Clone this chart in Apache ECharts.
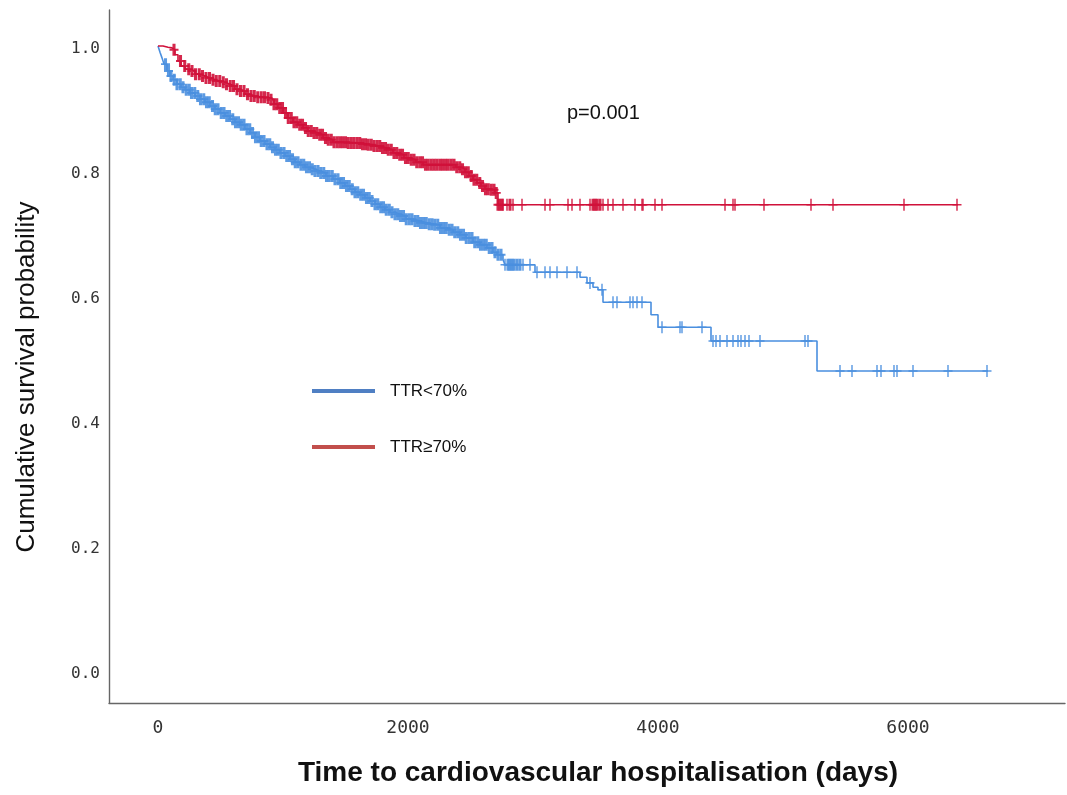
<!DOCTYPE html>
<html>
<head>
<meta charset="utf-8">
<title>Kaplan-Meier: time to cardiovascular hospitalisation</title>
<script src="https://cdn.jsdelivr.net/npm/echarts@6/dist/echarts.min.js"></script>
<style>
  html, body { margin: 0; padding: 0; background: #ffffff; }
  #chart { width: 1067px; height: 795px; }
</style>
</head>
<body>
<div id="chart"></div>
<script>
// Axis tick labels
const TICK_DAYS = [0, 2000, 4000, 6000];
const TICK_SURV = [0.0, 0.2, 0.4, 0.6, 0.8, 1.0];

// Group names
const GROUP_LOW = 'TTR<70%';
const GROUP_HIGH = 'TTR\u226570%';
const P_VALUE_TEXT = 'p=0.001';

// Kaplan-Meier step points, TTR<70% (time in days, cumulative survival)
const lowTimes = [0, 16, 32, 48, 72, 96, 120, 152, 184, 216,
  256, 296, 336, 376, 416, 456, 496, 536, 576, 616,
  656, 696, 736, 776, 816, 856, 896, 936, 976, 1016,
  1056, 1096, 1136, 1176, 1216, 1256, 1296, 1344, 1400, 1456,
  1496, 1536, 1576, 1616, 1656, 1696, 1736, 1776, 1816, 1856,
  1896, 1936, 1984, 2040, 2096, 2152, 2200, 2256, 2312, 2360,
  2416, 2464, 2520, 2576, 2632, 2680, 2712, 2760, 2776, 3016,
  3376, 3432, 3480, 3520, 3560, 3944, 4000, 4424, 5272, 6640];
const lowSurv = [1.0, 0.990, 0.981, 0.971, 0.960, 0.952, 0.946, 0.939, 0.934, 0.930,
  0.925, 0.920, 0.915, 0.910, 0.904, 0.899, 0.893, 0.888, 0.883, 0.878,
  0.874, 0.867, 0.861, 0.854, 0.848, 0.843, 0.838, 0.834, 0.829, 0.824,
  0.819, 0.814, 0.810, 0.806, 0.803, 0.800, 0.797, 0.792, 0.787, 0.781,
  0.776, 0.771, 0.766, 0.762, 0.757, 0.752, 0.747, 0.742, 0.738, 0.734,
  0.731, 0.728, 0.723, 0.720, 0.717, 0.715, 0.714, 0.709, 0.706, 0.702,
  0.698, 0.693, 0.686, 0.682, 0.677, 0.670, 0.666, 0.658, 0.650, 0.638,
  0.630, 0.621, 0.614, 0.610, 0.590, 0.570, 0.550, 0.528, 0.480, 0.480];

// Kaplan-Meier step points, TTR>=70%
const highTimes = [0, 40, 80, 112, 136, 160, 184, 216, 256, 296,
  336, 376, 416, 456, 496, 536, 576, 616, 656, 696,
  736, 776, 856, 896, 928, 960, 1000, 1040, 1080, 1120,
  1160, 1200, 1240, 1280, 1320, 1360, 1400, 1512, 1616, 1672,
  1720, 1776, 1824, 1880, 1920, 1968, 2016, 2064, 2120, 2384,
  2424, 2456, 2488, 2520, 2552, 2584, 2616, 2656, 2696, 2720,
  6400];
const highSurv = [1.0, 0.998, 0.997, 0.994, 0.986, 0.976, 0.968, 0.963, 0.960, 0.955,
  0.952, 0.949, 0.946, 0.944, 0.942, 0.939, 0.936, 0.931, 0.928, 0.923,
  0.920, 0.918, 0.917, 0.914, 0.907, 0.901, 0.893, 0.885, 0.878, 0.874,
  0.869, 0.864, 0.861, 0.858, 0.853, 0.850, 0.846, 0.845, 0.843, 0.842,
  0.840, 0.837, 0.834, 0.829, 0.826, 0.821, 0.818, 0.814, 0.810, 0.806,
  0.803, 0.798, 0.792, 0.786, 0.781, 0.776, 0.771, 0.770, 0.765, 0.746,
  0.746];

// Censored observations (days), TTR<70%
const lowCensor = [60, 84, 104, 130, 152, 178, 200, 226, 250, 268, 294, 318, 340, 366, 388, 410, 436,
  458, 480, 506, 528, 550, 572, 598, 620, 644, 666, 688, 712, 734, 756, 780, 804, 826, 848, 872, 894,
  916, 940, 962, 984, 1008, 1030, 1052, 1076, 1098, 1120, 1144, 1166, 1188, 1212, 1234, 1256, 1280,
  1302, 1326, 1348, 1370, 1394, 1416, 1440, 1462, 1484, 1508, 1530, 1554, 1576, 1598, 1622, 1644,
  1668, 1690, 1712, 1736, 1758, 1782, 1804, 1826, 1850, 1872, 1896, 1918, 1940, 1964, 1986, 2010,
  2032, 2056, 2078, 2100, 2124, 2146, 2170, 2192, 2214, 2238, 2260, 2284, 2306, 2330, 2352, 2374,
  2398, 2420, 2444, 2466, 2490, 2512, 2534, 2558, 2580, 2604, 2626, 2650, 2672, 2696, 2720, 2744,
  2776, 2800, 2816, 2832, 2848, 2872, 2896, 2920, 2976, 3032, 3096, 3136, 3192, 3272, 3352, 3456,
  3552, 3640, 3672, 3776, 3800, 3832, 3872, 4032, 4176, 4192, 4352, 4440, 4464, 4496, 4552, 4600,
  4640, 4664, 4696, 4728, 4816, 5176, 5200, 5456, 5552, 5752, 5784, 5888, 5912, 6040, 6320, 6632];

// Censored observations (days), TTR>=70%
const highCensor = [128, 180, 214, 246, 272, 300, 330, 356, 384, 412, 440, 466, 494, 522, 548, 578,
  604, 632, 660, 688, 716, 744, 770, 798, 826, 852, 880, 904, 928, 950, 974, 996, 1020, 1042, 1066,
  1088, 1110, 1134, 1156, 1180, 1202, 1226, 1248, 1270, 1294, 1316, 1340, 1362, 1386, 1408, 1432,
  1454, 1476, 1500, 1522, 1546, 1568, 1592, 1614, 1636, 1660, 1682, 1706, 1728, 1752, 1774, 1796,
  1820, 1842, 1866, 1888, 1910, 1934, 1956, 1980, 2002, 2026, 2048, 2070, 2094, 2116, 2140, 2162,
  2186, 2208, 2230, 2254, 2276, 2300, 2322, 2346, 2368, 2390, 2414, 2436, 2460, 2482, 2506, 2528,
  2550, 2574, 2596, 2620, 2642, 2666, 2688, 2706, 2720, 2736, 2752, 2760, 2792, 2816, 2840, 2912,
  3096, 3136, 3280, 3312, 3376, 3456, 3480, 3496, 3512, 3536, 3560, 3600, 3640, 3720, 3816, 3872,
  3880, 3976, 4032, 4536, 4600, 4616, 4848, 5224, 5400, 5968, 6392];

const COLOR_LOW = '#4a8fdf';
const COLOR_HIGH = '#d0113a';
const LEGEND_LOW = '#4f7fc3';
const LEGEND_HIGH = '#c24f4c';

// survival value of a step function at time t
function survAt(times, surv, t) {
  let s = surv[0];
  for (let i = 0; i < times.length; i++) {
    if (times[i] <= t) s = surv[i]; else break;
  }
  return s;
}

// censor ticks: heavy plus where censoring is crowded, thin plus where it is sparse
const PLUS_HEAVY = 'path://M3.3,0H6.7V4.2H10V5.8H6.7V10H3.3V5.8H0V4.2H3.3Z';
const PLUS_THIN = 'path://M4.2,0H5.8V4.3H10V5.7H5.8V10H4.2V5.7H0V4.3H4.2Z';

const stepData = (times, surv) => times.map((t, i) => [t, surv[i]]);
const censorData = (cens, times, surv) => cens.map((t, i) => {
  const prev = i > 0 ? t - cens[i - 1] : Infinity;
  const next = i < cens.length - 1 ? cens[i + 1] - t : Infinity;
  const crowded = Math.max(prev === Infinity ? 0 : prev, next === Infinity ? 0 : next) <= 30
    || (t < 2750);
  return {
    value: [t, survAt(times, surv, t)],
    symbol: crowded ? PLUS_HEAVY : PLUS_THIN
  };
});

const chart = echarts.init(document.getElementById('chart'), null, { renderer: 'canvas' });

const axisLineStyle = { color: '#666666', width: 1.4 };

chart.setOption({
  backgroundColor: '#ffffff',
  animation: false,
  grid: { left: 109, right: 2, top: 10, bottom: 92, containLabel: false },
  xAxis: {
    type: 'value',
    min: -392,
    max: 7256,
    axisLine: { show: true, onZero: false, lineStyle: axisLineStyle },
    axisTick: { show: false },
    splitLine: { show: false },
    axisLabel: {
      customValues: TICK_DAYS,
      formatter: v => String(v),
      margin: 16,
      color: '#333333',
      fontFamily: 'DejaVu Sans Mono',
      fontSize: 18
    }
  },
  yAxis: {
    type: 'value',
    min: -0.0512,
    max: 1.0576,
    axisLine: { show: true, onZero: false, lineStyle: axisLineStyle },
    axisTick: { show: false },
    splitLine: { show: false },
    axisLabel: {
      customValues: TICK_SURV,
      formatter: v => '{t|' + v.toFixed(1) + '}',
      margin: 9,
      rich: {
        t: {
          color: '#333333',
          fontFamily: 'DejaVu Sans Mono',
          fontSize: 16,
          padding: [5, 0, 0, 0]
        }
      }
    }
  },
  legend: {
    orient: 'vertical',
    left: 307,
    top: 376,
    icon: 'rect',
    itemWidth: 63,
    itemHeight: 4,
    itemGap: 36,
    selectedMode: false,
    textStyle: {
      color: '#111111',
      fontFamily: 'Liberation Sans, Arial, sans-serif',
      fontSize: 17,
      lineHeight: 20,
      padding: [0, 0, 0, 10]
    },
    data: [
      { name: GROUP_LOW, itemStyle: { color: LEGEND_LOW } },
      { name: GROUP_HIGH, itemStyle: { color: LEGEND_HIGH } }
    ]
  },
  graphic: [
    {
      type: 'text',
      left: 567,
      top: 103,
      style: {
        text: P_VALUE_TEXT,
        fill: '#111111',
        font: '20px "Liberation Sans", Arial, sans-serif'
      }
    },
    {
      type: 'text',
      x: 27,
      y: 377,
      rotation: Math.PI / 2,
      style: {
        text: 'Cumulative survival probability',
        fill: '#111111',
        font: '26px "Liberation Sans", Arial, sans-serif',
        align: 'center',
        verticalAlign: 'middle'
      }
    },
    {
      type: 'text',
      x: 598,
      y: 773,
      style: {
        text: 'Time to cardiovascular hospitalisation (days)',
        fill: '#111111',
        font: 'bold 28px "Liberation Sans", Arial, sans-serif',
        align: 'center',
        verticalAlign: 'middle'
      }
    }
  ],
  series: [
    {
      name: GROUP_LOW,
      type: 'line',
      step: 'end',
      showSymbol: false,
      symbol: 'none',
      lineStyle: { color: COLOR_LOW, width: 1.6 },
      itemStyle: { color: COLOR_LOW },
      data: stepData(lowTimes, lowSurv),
      z: 2
    },
    {
      name: GROUP_LOW,
      type: 'scatter',
      symbolSize: [9, 12],
      itemStyle: { color: COLOR_LOW, opacity: 0.9 },
      data: censorData(lowCensor, lowTimes, lowSurv),
      z: 3
    },
    {
      name: GROUP_HIGH,
      type: 'line',
      step: 'end',
      showSymbol: false,
      symbol: 'none',
      lineStyle: { color: COLOR_HIGH, width: 1.6 },
      itemStyle: { color: COLOR_HIGH },
      data: stepData(highTimes, highSurv),
      z: 4
    },
    {
      name: GROUP_HIGH,
      type: 'scatter',
      symbolSize: [9, 12],
      itemStyle: { color: COLOR_HIGH, opacity: 0.9 },
      data: censorData(highCensor, highTimes, highSurv),
      z: 5
    }
  ]
});
</script>
</body>
</html>
